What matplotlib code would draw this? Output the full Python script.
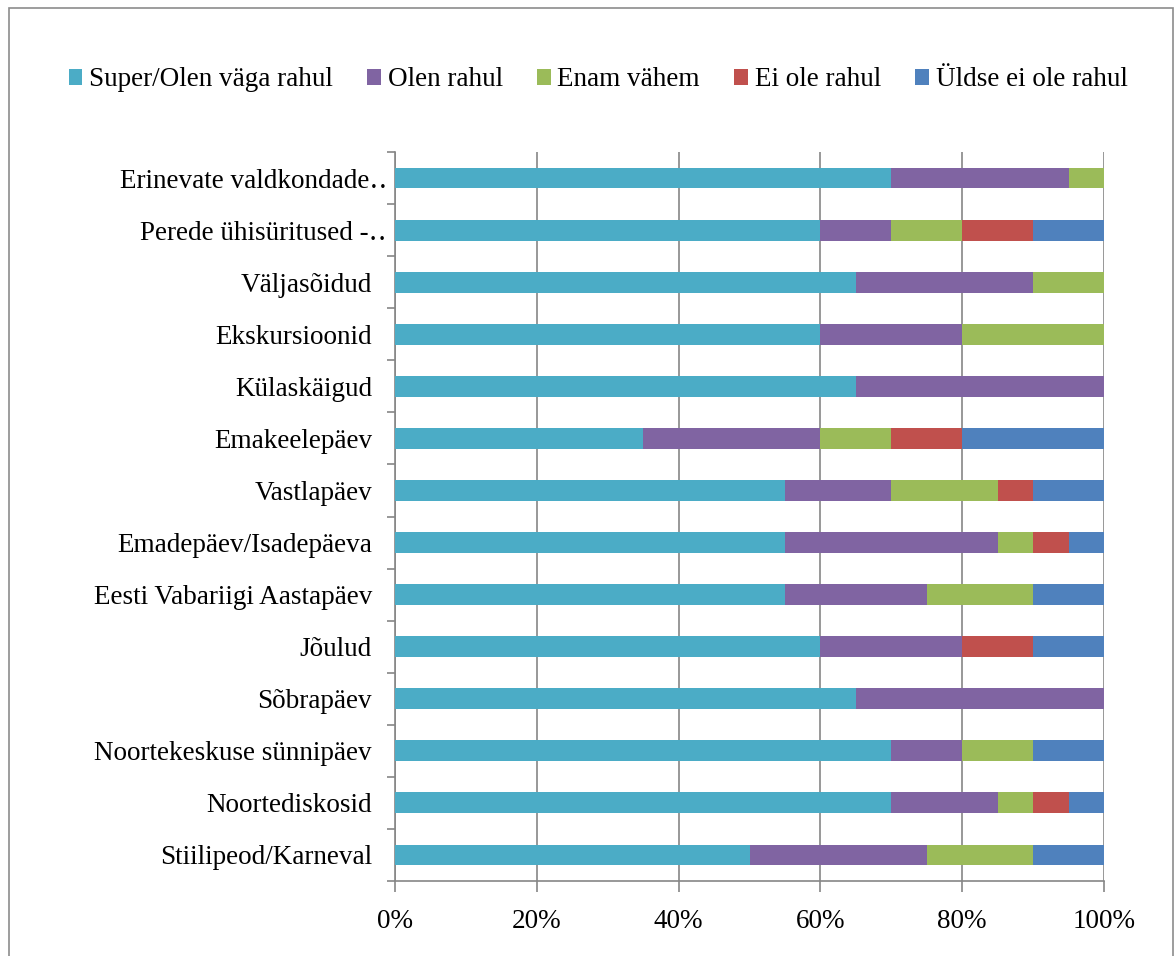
import matplotlib.pyplot as plt
from matplotlib.transforms import ScaledTranslation
import numpy as np

plt.rcParams['font.family'] = ['Liberation Serif', 'DejaVu Serif']

categories = [
    'Erinevate valdkondade‥',
    'Perede ühisüritused -‥',
    'Väljasõidud',
    'Ekskursioonid',
    'Külaskäigud',
    'Emakeelepäev',
    'Vastlapäev',
    'Emadepäev/Isadepäeva',
    'Eesti Vabariigi Aastapäev',
    'Jõulud',
    'Sõbrapäev',
    'Noortekeskuse sünnipäev',
    'Noortediskosid',
    'Stiilipeod/Karneval',
]
series_names = ['Super/Olen väga rahul', 'Olen rahul', 'Enam vähem',
                'Ei ole rahul', 'Üldse ei ole rahul']
super_rahul = [70, 60, 65, 60, 65, 35, 55, 55, 55, 60, 65, 70, 70, 50]
olen_rahul = [25, 10, 25, 20, 35, 25, 15, 30, 20, 20, 35, 10, 15, 25]
enam_vahem = [5, 10, 10, 20, 0, 10, 15, 5, 15, 0, 0, 10, 5, 15]
ei_rahul = [0, 10, 0, 0, 0, 10, 5, 5, 0, 10, 0, 0, 5, 0]
uldse_ei = [0, 10, 0, 0, 0, 20, 10, 5, 10, 10, 0, 10, 5, 10]
colors = ['#4BACC6', '#8064A2', '#9BBB59', '#C0504D', '#4F81BD']

fs = 19.5

fig = plt.figure(figsize=(11.75, 9.56), dpi=100)
ax = fig.add_axes([395 / 1175, 1 - 881 / 956, 709 / 1175, 729 / 956])

# page-like border round the chart
fig.patches.append(plt.Rectangle((9 / 1175, -0.01), 1164 / 1175, 1 - 8 / 956 + 0.01,
                                 transform=fig.transFigure, fill=False,
                                 edgecolor='#8c8c8c', linewidth=1.2))

y = np.arange(len(categories))[::-1]
left = np.zeros(len(categories))
for name, vals, col in zip(series_names,
                           [super_rahul, olen_rahul, enam_vahem, ei_rahul, uldse_ei],
                           colors):
    vals = np.array(vals, dtype=float)
    ax.barh(y, vals, left=left, height=0.4, color=col, label=name, zorder=3)
    left += vals

ax.set_xlim(0, 100)
ax.set_ylim(-0.5, len(categories) - 0.5)
ax.set_xticks(range(0, 101, 20))
ax.set_xticklabels([f'{v}%' for v in range(0, 101, 20)], fontsize=fs)
ax.set_yticks(y)
ax.set_yticklabels(categories, fontsize=fs)
ax.set_yticks(np.arange(-0.5, len(categories), 1), minor=True)
ax.tick_params(axis='y', which='major', length=0, pad=16.5)
ax.tick_params(axis='y', which='minor', length=6, color='#868686', width=1.2)
ax.tick_params(axis='x', length=8, color='#868686', width=1.2, pad=12)
ax.grid(axis='x', color='#868686', linewidth=1.2, zorder=0)
for s in ['top', 'right']:
    ax.spines[s].set_visible(False)
for s in ['left', 'bottom']:
    ax.spines[s].set_color('#868686')
    ax.spines[s].set_linewidth(1.2)

# truncated labels sit closer to the axis, as in the original
for lab in ax.get_yticklabels():
    if lab.get_text().endswith('‥'):
        lab.set_transform(lab.get_transform() + ScaledTranslation(0.15, 0, fig.dpi_scale_trans))

fig.legend(loc='center', bbox_to_anchor=(598 / 1175, 1 - 80 / 956), ncol=5, frameon=False,
           fontsize=fs, handlelength=0.5, handleheight=0.5, handletextpad=0.25,
           columnspacing=1.27)

fig.savefig('out.png', dpi=100)
